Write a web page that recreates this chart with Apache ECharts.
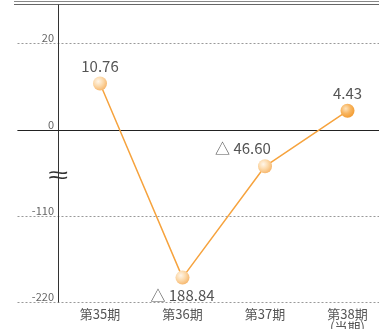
<!DOCTYPE html>
<html>
<head>
<meta charset="utf-8">
<script src="https://cdn.jsdelivr.net/npm/echarts@6/dist/echarts.min.js"></script>
<style>
  html, body { margin: 0; padding: 0; background: #fff; }
  #chart { width: 379px; height: 329px; }
</style>
</head>
<body>
<div id="chart"></div>
<script>
var categories = ['', '第35期', '第36期', '第37期', '第38期\n(当期)', ''];
var values = [null, 10.76, -188.84, -46.60, 4.43, null];
var yTicks = [-220, -110, 0, 20];

// broken axis: above zero 20 per step, below zero 110 per step
function toAxis(v) {
  if (v == null) return null;
  return v >= 0 ? v / 20 : v / 110;
}
function fromAxis(d) {
  return d >= 0 ? Math.round(d * 20) : Math.round(d * 110);
}
function fmt(v) {
  return v < 0 ? '△ ' + Math.abs(v).toFixed(2) : v.toFixed(2);
}

var pale = new echarts.graphic.RadialGradient(0.38, 0.35, 0.7, [
  {offset: 0, color: '#fff6ea'},
  {offset: 0.5, color: '#fcd9aa'},
  {offset: 1, color: '#f6b468'}
]);
var strong = new echarts.graphic.RadialGradient(0.38, 0.35, 0.7, [
  {offset: 0, color: '#fde3bd'},
  {offset: 0.5, color: '#f8b560'},
  {offset: 1, color: '#f29a2e'}
]);
var labelPos = [null, {position: 'top'}, {position: 'bottom'},
  {position: 'top', offset: [-22, 0]}, {position: 'top'}, null];

var seriesData = values.map(function (v, i) {
  if (v == null) return null;
  return {
    value: toAxis(v),
    raw: v,
    itemStyle: {color: i === 4 ? strong : pale, opacity: 1},
    label: labelPos[i]
  };
});

var chartDom = document.getElementById('chart');
var myChart = echarts.init(chartDom);
var option = {
  animation: false,
  grid: {left: 17.5, right: -51, top: 5, bottom: 27, outerBoundsMode: 'none', containLabel: false},
  xAxis: {
    type: 'category',
    data: categories,
    boundaryGap: false,
    axisLine: {show: false},
    axisTick: {show: false},
    splitLine: {show: false},
    axisLabel: {
      color: '#555',
      fontSize: 13,
      lineHeight: 13,
      margin: 6,
      interval: 0,
      fontFamily: 'Noto Sans CJK JP'
    }
  },
  yAxis: {
    type: 'value',
    min: -2,
    max: 1.45,
    interval: 1,
    offset: -40.5,
    axisLine: {show: true, lineStyle: {color: '#333', width: 1}},
    axisTick: {show: false},
    axisLabel: {
      showMaxLabel: false,
      color: '#666',
      fontSize: 11,
      margin: 4,
      verticalAlign: 'bottom',
      fontFamily: 'Noto Sans CJK JP',
      formatter: function (d) { return String(fromAxis(d)); }
    },
    splitLine: {
      show: true,
      lineStyle: {type: [2, 2], color: ['#999', '#999', '#999', '#999', 'transparent'], width: 1}
    }
  },
  graphic: [
    {type: 'line', shape: {x1: 14, y1: 1.5, x2: 379, y2: 1.5}, style: {stroke: '#888', lineWidth: 1}},
    {type: 'line', shape: {x1: 14, y1: 4.5, x2: 379, y2: 4.5}, style: {stroke: '#666', lineWidth: 1}},
    {type: 'text', x: 58, y: 176, scaleX: 1.5, style: {text: '≈', fontSize: 24, fill: '#333',
      align: 'center', verticalAlign: 'middle', fontFamily: 'Liberation Sans'}}
  ],
  series: [
    {
      type: 'line',
      data: seriesData,
      connectNulls: false,
      symbol: 'circle',
      symbolSize: 14,
      z: 5,
      lineStyle: {color: '#f6a33e', width: 1.5},
      label: {
        show: true,
        color: '#555',
        fontSize: 15,
        distance: 3,
        fontFamily: 'Noto Sans CJK JP',
        formatter: function (p) { return fmt(p.data.raw); }
      },
      markLine: {
        silent: true,
        symbol: 'none',
        label: {show: false},
        lineStyle: {type: 'solid', color: '#222', width: 1},
        data: [{yAxis: 0}]
      }
    }
  ]
};
option && myChart.setOption(option);
</script>
</body>
</html>
